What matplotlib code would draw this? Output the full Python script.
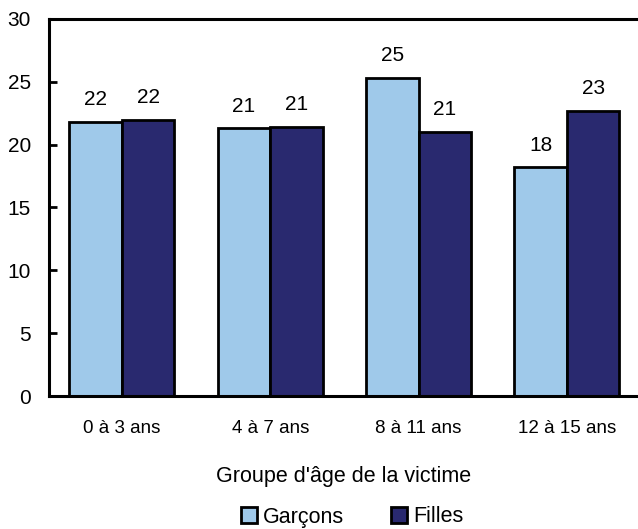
import matplotlib
matplotlib.use("Agg")
import matplotlib.pyplot as plt
import numpy as np
from matplotlib.patches import Patch

categories = ["0 à 3 ans", "4 à 7 ans", "8 à 11 ans", "12 à 15 ans"]
garcons = [21.8, 21.3, 25.3, 18.2]
filles = [22.0, 21.4, 21.0, 22.7]
series_names = ["Garçons", "Filles"]
yticks = [0, 5, 10, 15, 20, 25, 30]
xlabel = "Groupe d'âge de la victime"

c_light = "#9FC9EA"
c_dark = "#29296F"

plt.rcParams['font.family'] = ['Liberation Sans', 'DejaVu Sans']

fig = plt.figure(figsize=(6.38, 5.29), dpi=100)
ax = fig.add_axes([49/638, (529-396)/529, (638-49)/638, (396-19)/529])

x = np.arange(len(categories))
w = 0.354
b1 = ax.bar(x - w/2, garcons, w, color=c_light, edgecolor="black", linewidth=2)
b2 = ax.bar(x + w/2, filles, w, color=c_dark, edgecolor="black", linewidth=2)

for bars, vals in ((b1, garcons), (b2, filles)):
    for rect, v in zip(bars, vals):
        ax.annotate(f"{v:.0f}", (rect.get_x() + rect.get_width()/2, v),
                    xytext=(0, 12), textcoords="offset points",
                    ha="center", va="baseline", fontsize=15)

ax.set_xlim(-0.492, 3.479)
ax.set_ylim(0, 30)
ax.set_yticks(yticks)
ax.set_yticklabels([str(t) for t in yticks], fontsize=15)
ax.tick_params(axis="y", direction="in", length=6, width=2, pad=13)
ax.set_xticks(x)
ax.set_xticklabels(categories, fontsize=13.5)
ax.tick_params(axis="x", length=0, pad=17)
for s in ["left", "bottom", "top"]:
    ax.spines[s].set_linewidth(2.2)
ax.spines["right"].set_visible(False)
ax.set_xlabel(xlabel, fontsize=15.5, labelpad=21.5)

handles = [Patch(facecolor=c_light, edgecolor="black", linewidth=2),
           Patch(facecolor=c_dark, edgecolor="black", linewidth=2)]
fig.legend(handles, series_names, loc="center", bbox_to_anchor=(352/638, 1 - 517/529),
           ncol=2, frameon=False, fontsize=15.5, handlelength=0.75, handleheight=0.75,
           handletextpad=0.3, columnspacing=2.15)

fig.savefig("out.png", dpi=100)
